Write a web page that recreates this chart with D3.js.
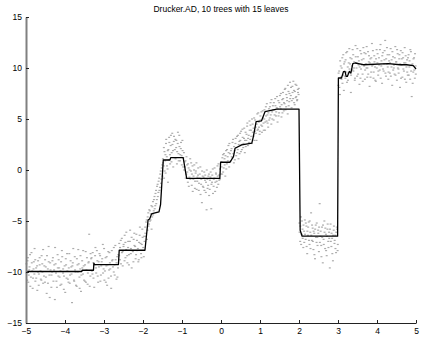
<!DOCTYPE html>
<html><head><meta charset="utf-8">
<script src="https://cdn.jsdelivr.net/npm/d3@7"></script>
<style>body{margin:0;background:#fff;} svg{display:block;}</style>
</head><body><div id="chart"></div>
<script>
const titleText = "Drucker.AD, 10 trees with 15 leaves";
const xTicks = [-5,-4,-3,-2,-1,0,1,2,3,4,5];
const yTicks = [-15,-10,-5,0,5,10,15];
// fitted ensemble (step line)
const stepX = [-5,-3.57,-3.56,-3.27,-3.26,-3.24,-2.63,-2.61,-1.95,-1.87,-1.83,-1.78,-1.74,-1.59,-1.55,-1.48,-1.31,-1.29,-0.97,-0.88,-0.03,-0.01,0.23,0.32,0.36,0.53,0.79,0.83,0.90,1.04,1.13,1.34,1.43,2.0,2.03,2.08,2.99,3.01,3.09,3.14,3.18,3.21,3.24,3.29,3.33,3.38,3.44,3.65,4.29,4.59,4.76,4.93,5.0];
const stepY = [-9.95,-9.95,-9.83,-9.83,-9.14,-9.27,-9.27,-7.87,-7.87,-4.9,-4.8,-4.3,-4.25,-4.1,-3.4,0.98,0.98,1.21,1.21,-0.82,-0.82,0.76,0.76,1.31,2.13,2.46,2.63,3.27,4.75,4.82,5.73,5.90,5.97,5.97,-5.9,-6.49,-6.49,9.02,9.02,9.64,9.67,9.17,9.17,9.67,9.51,10.42,10.49,10.32,10.42,10.32,10.32,10.23,9.9];
// noisy samples (first pass)
const samplesA = [
[-4.99,-9.2],[-4.97,-10.8],[-4.95,-8.6],[-4.93,-10.3],[-4.91,-9.5],[-4.89,-11.4],[-4.86,-8.1],[-4.84,-9.9],[-4.82,-10.6],[-4.80,-9.0],[-4.78,-7.7],[-4.76,-10.9],[-4.74,-9.6],[-4.71,-11.8],[-4.69,-8.9],[-4.67,-10.2],[-4.65,-9.3],[-4.62,-10.7],[-4.60,-8.4],[-4.58,-10.0],[-4.56,-11.1],[-4.53,-9.4],[-4.51,-8.8],[-4.49,-10.5],[-4.47,-12.1],[-4.44,-9.7],[-4.42,-7.5],[-4.40,-10.3],[-4.38,-9.1],[-4.35,-11.5],[-4.33,-10.0],[-4.31,-8.6],[-4.28,-9.8],[-4.26,-12.7],[-4.24,-9.2],[-4.22,-10.9],[-4.19,-8.3],[-4.17,-10.4],[-4.15,-9.6],[-4.12,-11.3],[-4.10,-9.0],[-4.08,-7.9],[-4.05,-10.1],[-4.03,-11.7],[-4.01,-9.4],[-3.98,-8.7],[-3.96,-10.6],[-3.94,-9.9],[-3.91,-11.0],[-3.89,-8.2],[-3.87,-10.3],[-3.84,-9.5],[-3.82,-13.0],[-3.80,-9.1],[-3.77,-10.8],[-3.75,-8.5],[-3.73,-10.0],[-3.70,-11.4],[-3.68,-9.3],[-3.66,-7.8],[-3.63,-10.5],[-3.61,-9.7],[-3.59,-11.9],[-3.56,-8.9],[-3.54,-10.2],[-3.52,-9.4],[-3.49,-10.9],[-3.47,-8.0],[-3.45,-9.8],[-3.42,-11.2],[-3.40,-9.1],[-3.38,-6.3],[-3.35,-10.4],[-3.33,-8.7],
[-3.31,-9.9],[-3.29,-8.1],[-3.27,-10.6],[-3.24,-9.3],[-3.22,-7.6],[-3.20,-10.1],[-3.17,-8.9],[-3.15,-11.0],[-3.13,-9.5],[-3.10,-8.4],[-3.08,-10.3],[-3.06,-9.0],[-3.03,-7.3],[-3.01,-9.7],[-2.99,-10.8],[-2.96,-8.6],[-2.94,-9.4],[-2.92,-11.3],[-2.89,-8.0],[-2.87,-9.8],[-2.85,-9.1],[-2.82,-10.4],[-2.80,-7.9],[-2.78,-8.8],[-2.75,-10.0],[-2.73,-9.3],[-2.71,-7.4],[-2.68,-10.7],[-2.66,-8.5],[-2.64,-9.6],
[-2.61,-7.2],[-2.59,-8.8],[-2.57,-6.9],[-2.54,-8.1],[-2.52,-9.4],[-2.50,-7.5],[-2.47,-6.4],[-2.45,-8.6],[-2.43,-7.8],[-2.40,-9.1],[-2.38,-7.0],[-2.36,-8.3],[-2.33,-5.9],[-2.31,-7.7],[-2.29,-9.6],[-2.26,-8.0],[-2.24,-6.8],[-2.22,-7.4],[-2.19,-8.7],[-2.17,-6.3],[-2.15,-7.9],[-2.12,-9.0],[-2.10,-7.1],[-2.08,-5.6],[-2.05,-8.2],[-2.03,-7.3],[-2.01,-6.6],[-1.98,-8.5],[-1.96,-7.0],
[-1.94,-6.2],[-1.92,-5.1],[-1.90,-6.8],[-1.88,-4.6],[-1.86,-5.5],[-1.84,-3.9],[-1.82,-5.0],[-1.80,-4.3],[-1.78,-5.8],[-1.76,-3.6],[-1.74,-4.4],[-1.72,-2.9],[-1.70,-3.8],[-1.68,-2.3],[-1.66,-3.3],[-1.64,-1.6],[-1.62,-2.6],[-1.60,-1.1],[-1.58,-2.0],[-1.56,-0.4],[-1.54,-1.3],[-1.52,0.2],[-1.50,-0.6],
[-1.49,1.1],[-1.47,0.4],[-1.46,-0.8],[-1.45,1.8],[-1.43,0.9],[-1.42,-0.3],[-1.41,2.6],[-1.39,1.3],[-1.37,0.1],[-1.36,-1.2],[-1.35,2.0],[-1.33,3.2],[-1.31,1.5],[-1.29,2.4],[-1.27,0.8],[-1.25,3.6],[-1.23,1.9],[-1.21,2.8],[-1.19,1.2],[-1.17,3.0],[-1.15,2.2],[-1.13,0.6],[-1.11,2.6],[-1.09,1.6],[-1.07,3.4],[-1.05,0.9],[-1.03,2.1],[-1.01,1.4],[-0.99,2.9],[-0.97,0.3],[-0.95,1.7],[-0.93,0.8],
[-0.91,0.9],[-0.89,-0.4],[-0.87,0.5],[-0.85,-1.2],[-0.83,0.2],[-0.81,-0.7],[-0.79,1.1],[-0.77,-0.1],[-0.75,-1.5],[-0.73,0.4],[-0.71,-0.9],[-0.69,0.0],[-0.67,-1.8],[-0.65,-0.3],[-0.63,0.7],[-0.61,-1.1],[-0.59,-0.5],[-0.57,-2.0],[-0.55,-0.8],[-0.53,0.3],[-0.51,-1.4],[-0.49,-3.2],[-0.47,-0.6],[-0.45,-1.7],[-0.43,-0.2],[-0.41,-1.0],[-0.39,-2.2],[-0.37,-3.9],[-0.35,-0.9],[-0.33,-1.5],[-0.31,-0.4],[-0.29,-1.9],[-0.27,-0.7],[-0.25,-3.8],[-0.23,-1.2],[-0.21,0.1],[-0.19,-1.6],[-0.17,-0.8],[-0.15,-2.1],[-0.13,-0.3],[-0.11,-1.1],[-0.09,0.4],[-0.07,-1.4],[-0.05,-0.5],[-0.03,-0.9],
[0.01,0.8],[0.03,-0.4],[0.05,1.5],[0.07,0.2],[0.09,1.1],[0.11,-0.6],[0.13,1.9],[0.15,0.6],[0.17,1.3],[0.19,2.4],[0.21,0.3],[0.23,1.6],[0.25,0.9],[0.27,2.1],[0.29,1.2],[0.31,3.0],[0.33,0.7],[0.35,1.9],[0.37,2.6],[0.39,1.4],[0.41,3.3],[0.43,2.0],[0.45,1.1],[0.47,2.8],[0.49,3.6],[0.51,1.8],[0.53,2.5],[0.55,4.0],[0.57,2.2],[0.59,3.1],[0.61,1.7],[0.63,3.7],[0.65,2.9],[0.67,4.3],[0.69,2.4],[0.71,3.4],[0.73,4.8],[0.75,3.0],[0.77,3.9],[0.79,2.6],[0.81,4.5],[0.83,3.3],[0.85,5.1],[0.87,3.8],[0.89,4.2],[0.91,2.9],[0.93,5.5],[0.95,4.0],[0.97,4.7],[0.99,3.5],[1.01,5.3],[1.03,4.4],[1.05,3.7],[1.07,5.8],[1.09,4.6],[1.11,5.0],[1.13,3.9],[1.15,6.2],[1.17,4.8],[1.19,5.4],[1.21,4.2],[1.23,6.0],[1.25,5.1],[1.27,6.6],[1.29,4.5],[1.31,5.7],[1.33,6.3],[1.35,4.9],[1.37,5.9],[1.39,7.0],[1.41,5.3],[1.43,6.1],[1.45,4.7],[1.47,6.8],[1.49,5.6],[1.51,7.3],[1.53,6.0],[1.55,5.2],[1.57,6.9],[1.59,7.6],[1.61,5.8],[1.63,6.5],[1.65,8.0],[1.67,6.2],[1.69,7.1],[1.71,5.5],[1.73,7.7],[1.75,6.7],[1.77,8.6],[1.79,7.3],[1.81,6.1],[1.83,8.2],[1.85,7.0],[1.87,7.8],[1.89,6.4],[1.91,8.4],[1.93,7.2],[1.95,6.8],[1.97,7.9],[1.99,7.4],
[2.01,-5.2],[2.03,-7.0],[2.05,-4.6],[2.07,-6.3],[2.09,-5.8],[2.11,-7.6],[2.13,-6.0],[2.15,-4.9],[2.17,-6.8],[2.19,-5.5],[2.21,-8.2],[2.23,-6.4],[2.25,-5.1],[2.27,-7.3],[2.29,-6.1],[2.31,-4.2],[2.33,-6.9],[2.35,-5.7],[2.37,-7.8],[2.39,-6.2],[2.41,-8.7],[2.43,-5.4],[2.45,-7.1],[2.47,-6.6],[2.49,-5.9],[2.51,-8.0],[2.53,-3.3],[2.55,-6.5],[2.57,-7.4],[2.59,-5.6],[2.61,-9.1],[2.63,-6.8],[2.65,-5.0],[2.67,-7.7],[2.69,-6.3],[2.71,-8.4],[2.73,-5.8],[2.75,-7.0],[2.77,-6.1],[2.79,-9.6],[2.81,-5.3],[2.83,-7.5],[2.85,-6.7],[2.87,-8.9],[2.89,-5.9],[2.91,-7.2],[2.93,-6.4],[2.95,-8.1],[2.97,-5.6],[2.99,-7.9],
[3.01,8.3],[3.03,9.7],[3.05,7.4],[3.07,10.2],[3.09,8.9],[3.11,11.0],[3.13,9.3],[3.15,7.8],[3.17,10.6],[3.19,9.0],[3.21,11.5],[3.23,8.6],[3.25,10.1],[3.27,9.5],[3.29,11.9],[3.31,10.4],[3.33,7.6],[3.35,10.9],[3.37,9.8],[3.39,11.3],[3.41,10.0],[3.43,8.8],[3.45,12.2],[3.47,10.5],[3.49,9.2],[3.51,11.1],[3.53,10.3],[3.55,8.4],[3.57,11.7],[3.59,9.9],[3.61,10.8],[3.63,9.4],[3.65,12.0],[3.67,10.2],[3.69,8.9],[3.71,11.4],[3.73,10.0],[3.75,9.1],[3.77,11.6],[3.79,10.6],[3.81,8.2],[3.83,10.9],[3.85,9.6],[3.87,12.4],[3.89,10.3],[3.91,9.0],[3.93,11.2],[3.95,10.1],[3.97,8.7],[3.99,11.8],[4.01,10.5],[4.03,9.3],[4.05,11.0],[4.07,9.8],[4.09,12.3],[4.11,10.2],[4.13,8.5],[4.15,11.5],[4.17,9.7],[4.19,10.8],[4.21,12.7],[4.23,9.2],[4.25,10.4],[4.27,11.3],[4.29,8.9],[4.31,10.7],[4.33,9.5],[4.35,11.9],[4.37,10.1],[4.39,8.3],[4.41,11.1],[4.43,10.0],[4.45,9.4],[4.47,12.1],[4.49,10.6],[4.51,8.8],[4.53,11.4],[4.55,9.9],[4.57,10.9],[4.59,8.1],[4.61,11.7],[4.63,10.3],[4.65,9.1],[4.67,11.0],[4.69,9.7],[4.71,12.0],[4.73,10.5],[4.75,8.6],[4.77,10.8],[4.79,9.3],[4.81,11.3],[4.83,10.1],[4.85,8.9],[4.87,11.6],[4.89,7.2],[4.91,10.4],[4.93,9.6],[4.95,11.0],[4.97,9.0],[4.99,10.2]
];
// noisy samples (second pass)
const samplesB = [
[-4.985,-10.1],[-4.962,-8.9],[-4.941,-11.0],[-4.918,-9.8],[-4.897,-8.3],[-4.874,-10.5],[-4.851,-9.1],[-4.829,-11.6],[-4.807,-9.7],[-4.786,-10.2],[-4.763,-8.8],[-4.738,-10.6],[-4.716,-9.4],[-4.692,-10.0],[-4.674,-11.3],[-4.651,-8.6],[-4.627,-9.9],[-4.606,-10.8],[-4.583,-9.2],[-4.561,-7.8],[-4.539,-10.4],[-4.514,-11.0],[-4.493,-9.5],[-4.462,-8.4],[-4.437,-11.1],[-4.418,-9.0],[-4.392,-12.5],[-4.371,-9.8],[-4.346,-10.3],[-4.323,-8.9],[-4.297,-10.9],[-4.276,-9.3],[-4.254,-7.6],[-4.231,-10.1],[-4.207,-11.5],[-4.184,-9.6],[-4.163,-8.8],[-4.139,-10.5],[-4.116,-9.9],[-4.092,-11.2],[-4.071,-8.5],[-4.048,-9.7],[-4.026,-10.4],[-3.994,-12.0],[-3.972,-9.3],[-3.947,-8.2],[-3.926,-10.7],[-3.903,-9.6],[-3.878,-11.1],[-3.856,-8.9],[-3.833,-10.2],[-3.811,-9.4],[-3.788,-7.7],[-3.764,-10.9],[-3.742,-9.8],[-3.718,-11.3],[-3.695,-8.7],[-3.672,-10.0],[-3.648,-9.2],[-3.624,-11.6],[-3.603,-8.4],[-3.581,-10.3],[-3.557,-9.6],[-3.534,-7.9],[-3.511,-10.8],[-3.486,-9.3],[-3.463,-11.0],[-3.437,-8.6],[-3.414,-10.1],[-3.392,-9.0],[-3.366,-11.4],[-3.344,-8.2],
[-3.318,-8.6],[-3.296,-10.2],[-3.273,-9.1],[-3.251,-11.5],[-3.228,-8.4],[-3.206,-9.6],[-3.183,-7.9],[-3.161,-10.4],[-3.137,-9.0],[-3.116,-8.2],[-3.093,-10.9],[-3.071,-9.4],[-3.046,-8.7],[-3.024,-10.1],[-2.998,-7.7],[-2.976,-9.9],[-2.953,-11.0],[-2.931,-8.5],[-2.908,-9.3],[-2.884,-10.6],[-2.862,-8.1],[-2.839,-9.7],[-2.816,-11.6],[-2.793,-8.9],[-2.771,-9.5],[-2.748,-7.6],[-2.726,-10.3],[-2.702,-8.8],[-2.679,-9.1],[-2.655,-10.5],[-2.632,-8.3],
[-2.612,-8.4],[-2.588,-7.6],[-2.565,-9.2],[-2.543,-6.7],[-2.521,-8.0],[-2.497,-7.3],[-2.474,-8.9],[-2.452,-7.1],[-2.428,-6.1],[-2.405,-8.4],[-2.383,-7.6],[-2.361,-9.3],[-2.337,-7.0],[-2.314,-8.2],[-2.292,-6.6],[-2.268,-7.9],[-2.246,-9.0],[-2.223,-6.2],[-2.201,-7.5],[-2.178,-8.3],[-2.155,-6.9],[-2.132,-7.7],[-2.109,-8.8],[-2.086,-6.4],[-2.063,-7.2],[-2.041,-8.6],[-2.018,-5.8],[-1.994,-7.6],[-1.972,-6.5],
[-1.945,-5.6],[-1.925,-6.5],[-1.905,-4.9],[-1.885,-5.9],[-1.865,-4.2],[-1.845,-5.3],[-1.825,-4.0],[-1.805,-4.9],[-1.785,-3.5],[-1.765,-4.6],[-1.745,-3.1],[-1.725,-4.0],[-1.705,-2.6],[-1.685,-3.5],[-1.665,-2.0],[-1.645,-2.9],[-1.625,-1.4],[-1.605,-2.2],[-1.585,-0.8],[-1.565,-1.7],[-1.545,-0.1],[-1.525,-0.9],[-1.505,0.5],
[-1.485,0.7],[-1.465,2.2],[-1.445,-0.1],[-1.425,1.5],[-1.405,3.0],[-1.385,0.4],[-1.365,1.9],[-1.345,1.0],[-1.325,2.7],[-1.305,0.6],[-1.285,3.4],[-1.265,1.7],[-1.245,2.5],[-1.225,0.3],[-1.205,3.3],[-1.185,2.0],[-1.165,1.1],[-1.145,2.9],[-1.125,1.8],[-1.105,3.7],[-1.085,0.9],[-1.065,2.3],[-1.045,1.5],[-1.025,2.7],[-1.005,0.5],[-0.985,1.9],[-0.965,1.2],[-0.945,0.0],
[-0.925,0.3],[-0.905,-0.8],[-0.885,1.3],[-0.865,-0.2],[-0.845,0.6],[-0.825,-1.6],[-0.805,0.0],[-0.785,-0.9],[-0.765,0.7],[-0.745,-0.4],[-0.725,-2.1],[-0.705,-0.6],[-0.685,0.5],[-0.665,-1.1],[-0.645,-0.1],[-0.625,-1.9],[-0.605,-0.7],[-0.585,0.2],[-0.565,-1.3],[-0.545,-0.4],[-0.525,-2.4],[-0.505,-0.9],[-0.485,-0.1],[-0.465,-1.6],[-0.445,-0.7],[-0.425,-2.0],[-0.405,-0.5],[-0.385,-1.2],[-0.365,0.0],[-0.345,-1.8],[-0.325,-0.6],[-0.305,-2.5],[-0.285,-1.0],[-0.265,-0.2],[-0.245,-1.4],[-0.225,-0.5],[-0.205,-2.3],[-0.185,-0.9],[-0.165,0.2],[-0.145,-1.2],[-0.125,-0.4],[-0.105,-1.7],[-0.085,-0.6],[-0.065,0.6],[-0.045,-1.0],[-0.025,0.1],[-0.005,-0.4],
[0.015,0.3],[0.035,1.2],[0.055,-0.2],[0.075,1.6],[0.095,0.5],[0.115,1.4],[0.135,0.1],[0.155,2.0],[0.175,0.9],[0.195,1.7],[0.215,2.6],[0.235,0.8],[0.255,1.9],[0.275,1.3],[0.295,2.7],[0.315,1.6],[0.335,2.3],[0.355,1.0],[0.375,3.1],[0.395,2.2],[0.415,1.7],[0.435,3.4],[0.455,2.5],[0.475,1.6],[0.495,2.9],[0.515,3.8],[0.535,2.0],[0.555,3.2],[0.575,2.6],[0.595,4.1],[0.615,2.9],[0.635,2.3],[0.655,3.5],[0.675,4.6],[0.695,3.1],[0.715,2.7],[0.735,3.9],[0.755,4.4],[0.775,3.3],[0.795,5.0],[0.815,3.7],[0.835,4.1],[0.855,2.9],[0.875,4.9],[0.895,3.6],[0.915,4.5],[0.935,3.9],[0.955,5.6],[0.975,4.2],[0.995,3.8],[1.015,4.9],[1.035,5.7],[1.055,4.3],[1.075,5.1],[1.095,3.9],[1.115,5.9],[1.135,4.7],[1.155,5.3],[1.175,6.5],[1.195,4.6],[1.215,5.6],[1.235,4.9],[1.255,6.2],[1.275,5.4],[1.295,6.9],[1.315,5.0],[1.335,5.9],[1.355,6.6],[1.375,5.4],[1.395,6.3],[1.415,5.7],[1.435,7.2],[1.455,6.0],[1.475,5.3],[1.495,6.6],[1.515,6.2],[1.535,7.5],[1.555,6.4],[1.575,5.6],[1.595,7.0],[1.615,6.6],[1.635,7.9],[1.655,5.9],[1.675,7.4],[1.695,6.8],[1.715,8.3],[1.735,6.3],[1.755,7.5],[1.775,7.0],[1.795,8.1],[1.815,6.8],[1.835,7.6],[1.855,8.7],[1.875,6.6],[1.895,7.7],[1.915,7.1],[1.935,8.3],[1.955,6.9],[1.975,7.6],[1.995,8.0],
[2.015,-6.1],[2.035,-5.5],[2.055,-7.3],[2.075,-5.0],[2.095,-6.7],[2.115,-5.4],[2.135,-7.1],[2.155,-6.3],[2.175,-5.2],[2.195,-7.5],[2.215,-6.0],[2.235,-5.6],[2.255,-6.9],[2.275,-5.0],[2.295,-7.7],[2.315,-6.4],[2.335,-5.4],[2.355,-7.0],[2.375,-6.0],[2.395,-8.3],[2.415,-5.8],[2.435,-6.6],[2.455,-5.2],[2.475,-7.4],[2.495,-6.2],[2.515,-5.6],[2.535,-7.1],[2.555,-6.0],[2.575,-8.5],[2.595,-6.6],[2.615,-5.4],[2.635,-7.3],[2.655,-6.1],[2.675,-5.7],[2.695,-7.9],[2.715,-6.5],[2.735,-5.3],[2.755,-7.6],[2.775,-6.7],[2.795,-5.8],[2.815,-7.0],[2.835,-6.2],[2.855,-8.2],[2.875,-6.4],[2.895,-5.5],[2.915,-6.9],[2.935,-7.7],[2.955,-6.1],[2.975,-5.8],[2.995,-7.3],
[3.015,9.5],[3.035,8.1],[3.055,10.7],[3.075,9.1],[3.095,10.0],[3.115,8.5],[3.135,11.3],[3.155,10.4],[3.175,9.2],[3.195,10.8],[3.215,9.6],[3.235,11.6],[3.255,8.8],[3.275,10.5],[3.295,9.9],[3.315,11.0],[3.335,9.3],[3.355,10.2],[3.375,11.8],[3.395,9.7],[3.415,10.6],[3.435,9.0],[3.455,11.1],[3.475,10.0],[3.495,11.9],[3.515,9.4],[3.535,10.7],[3.555,10.1],[3.575,9.0],[3.595,11.4],[3.615,10.3],[3.635,8.7],[3.655,10.9],[3.675,11.5],[3.695,9.8],[3.715,10.4],[3.735,12.1],[3.755,10.0],[3.775,9.4],[3.795,11.2],[3.815,10.5],[3.835,9.1],[3.855,11.0],[3.875,10.2],[3.895,11.7],[3.915,9.6],[3.935,10.6],[3.955,8.8],[3.975,10.9],[3.995,10.0],[4.015,11.4],[4.035,9.7],[4.055,10.3],[4.075,11.8],[4.095,9.0],[4.115,10.7],[4.135,11.2],[4.155,9.9],[4.175,10.4],[4.195,11.7],[4.215,9.5],[4.235,10.9],[4.255,12.0],[4.275,10.1],[4.295,9.6],[4.315,11.3],[4.335,10.5],[4.355,9.2],[4.375,10.8],[4.395,11.6],[4.415,9.8],[4.435,10.3],[4.455,11.0],[4.475,9.3],[4.495,10.6],[4.515,11.8],[4.535,10.0],[4.555,9.5],[4.575,11.3],[4.595,10.4],[4.615,9.0],[4.635,10.9],[4.655,11.5],[4.675,9.9],[4.695,10.5],[4.715,8.9],[4.735,11.2],[4.755,10.1],[4.775,9.6],[4.795,11.0],[4.815,9.3],[4.835,10.7],[4.855,11.8],[4.875,9.7],[4.895,10.3],[4.915,8.5],[4.935,10.9],[4.955,9.8],[4.975,11.4],[4.995,9.4]
];
const samples = samplesA.concat(samplesB);

const W = 423, H = 340;
const margin = {left: 26, right: 7, top: 17, bottom: 17};
const svg = d3.select("#chart").append("svg").attr("width", W).attr("height", H)
  .style("font-family", "'Liberation Sans', Arial, Helvetica, sans-serif");
const x = d3.scaleLinear().domain([-5, 5]).range([margin.left, W - margin.right]);
const y = d3.scaleLinear().domain([-15, 15]).range([H - margin.bottom, margin.top]);
const fmt = d => d < 0 ? "\u2212" + Math.abs(d) : String(d);

// samples
svg.append("g").selectAll("rect").data(samples).join("rect")
  .attr("x", d => x(d[0]) - 1).attr("y", d => y(d[1]) - 0.6)
  .attr("width", 2).attr("height", 1.2).attr("fill", "#acacac");

// step line
const stepData = stepX.map((v, i) => [v, stepY[i]]);
svg.append("path").datum(stepData)
  .attr("d", d3.line().x(d => x(d[0])).y(d => y(d[1])))
  .attr("fill", "none").attr("stroke", "#000").attr("stroke-width", 1.3)
  .attr("stroke-linejoin", "round");

// axes
const xAxis = d3.axisBottom(x).tickValues(xTicks).tickFormat(fmt).tickSizeInner(-3).tickSizeOuter(0).tickPadding(5);
const gx = svg.append("g").attr("transform", `translate(0,${y(-15)})`).call(xAxis);
gx.select(".domain").attr("stroke", "#222").attr("stroke-width", 1);
gx.selectAll(".tick line").attr("stroke", "#222");
gx.selectAll("text").attr("font-size", 8.5).attr("fill", "#000").attr("font-family", "'Liberation Sans', Arial, sans-serif");

const yAxis = d3.axisLeft(y).tickValues(yTicks).tickFormat(fmt).tickSizeInner(-3).tickSizeOuter(0).tickPadding(4);
const gy = svg.append("g").attr("transform", `translate(${x(-5)},0)`).call(yAxis);
gy.select(".domain").attr("stroke", "#808080").attr("stroke-width", 2);
gy.selectAll(".tick line").attr("stroke", "#222");
gy.selectAll("text").attr("font-size", 8.5).attr("fill", "#000").attr("font-family", "'Liberation Sans', Arial, sans-serif");

svg.append("text").attr("x", (x(-5) + x(5)) / 2).attr("y", 12)
  .attr("text-anchor", "middle").attr("font-size", 8.5).attr("fill", "#000")
  .text(titleText);
</script></body></html>
